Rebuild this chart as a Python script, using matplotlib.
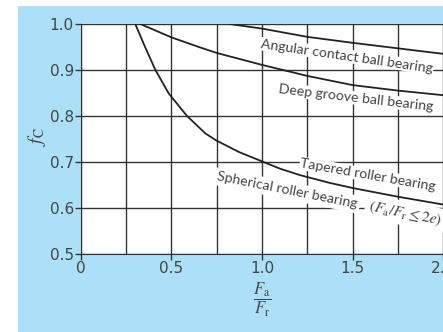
import matplotlib
matplotlib.use("Agg")
from matplotlib import pyplot as plt
from matplotlib.patches import Rectangle
from matplotlib.ticker import MultipleLocator

plt.rcParams['mathtext.fontset'] = 'stix'

# values (Fa/Fr vs fC)
roller_x = [0.301, 0.355, 0.412, 0.485, 0.586, 0.687, 0.75, 0.875, 1.0, 1.1, 1.21,
            1.375, 1.5, 1.75, 2.0, 2.25]
roller_y = [1.0, 0.950, 0.900, 0.849, 0.800, 0.762, 0.746, 0.721, 0.701, 0.685, 0.671,
            0.654, 0.643, 0.624, 0.607, 0.594]

deep_x = [0.329, 0.5, 0.651, 0.75, 1.0, 1.25, 1.5, 1.75, 2.0, 2.25]
deep_y = [1.0, 0.971, 0.950, 0.937, 0.911, 0.887, 0.867, 0.855, 0.845, 0.837]

angular_x = [0.82, 1.0, 1.25, 1.5, 1.75, 2.0, 2.25]
angular_y = [1.0, 0.990, 0.972, 0.959, 0.947, 0.935, 0.925]

x_ticks = [0, 0.5, 1.0, 1.5, 2.0]
x_ticklabels = ['0', '0.5', '1.0', '1.5', '2.0']
y_ticks = [0.5, 0.6, 0.7, 0.8, 0.9, 1.0]

bg = '#ace0f9'
txt = '#444444'

fig = plt.figure(figsize=(4.43, 3.32), dpi=100)
fig.patches.append(Rectangle((18/443, 0), 1, 326/332, transform=fig.transFigure,
                             facecolor=bg, edgecolor='none', zorder=-10))

ax = fig.add_axes([80.7/443, 78.3/332, 2.25*181.3/443, 229.7/332])
ax.set_facecolor('white')
ax.set_xlim(0, 2.25)
ax.set_ylim(0.5, 1.0)

ax.xaxis.set_minor_locator(MultipleLocator(0.25))
ax.set_xticks(x_ticks)
ax.set_xticklabels(x_ticklabels)
ax.set_yticks(y_ticks)
ax.set_yticklabels(['%.1f' % v for v in y_ticks])
ax.grid(True, which='both', color='#333333', lw=1.0)
ax.tick_params(which='minor', length=0)
ax.tick_params(which='major', length=4, width=1, color='#333333',
               labelsize=11, labelcolor=txt, pad=1)
ax.set_axisbelow(True)
for s in ax.spines.values():
    s.set_color('#333333')
ax.spines['top'].set_visible(False)
ax.spines['right'].set_visible(False)

for xs, ys in [(roller_x, roller_y), (deep_x, deep_y), (angular_x, angular_y)]:
    ax.plot(xs, ys, color='#222222', lw=1.3, zorder=3)

lbl = dict(fontfamily='Lato', fontsize=10.2, color=txt, ha='center', va='center',
           rotation_mode='anchor',
           bbox=dict(facecolor='white', edgecolor='none', pad=0.5), zorder=4)
fig.text(347/443, 1 - 56/332, 'Angular contact ball bearing', rotation=-8.2, **lbl)
fig.text(356/443, 1 - 98/332, 'Deep groove ball bearing', rotation=-6.6, **lbl)
fig.text(368/443, 1 - 175/332, 'Tapered roller bearing', rotation=-10, **lbl)
word_lbl = dict(lbl, bbox=dict(facecolor='white', edgecolor='none', pad=2.0))
fig.text(287/443, 1 - 190.5/332, 'Spherical roller bearing', rotation=-11.3, **word_lbl)
math_lbl = dict(lbl, fontsize=11.2,
                bbox=dict(facecolor='white', edgecolor='none', pad=2.5))
fig.text(405/443, 1 - 213.5/332, r'$(F_\mathrm{a}/F_\mathrm{r} \leq 2e)$',
         rotation=-11.3, **math_lbl)

fig.text(37/443, 1 - 137/332, r'$f_\mathrm{C}$', rotation=90, fontsize=14,
         color=txt, ha='center', va='center')
fig.text(262/443, 1 - 300/332, r'$\dfrac{F_\mathrm{a}}{F_\mathrm{r}}$',
         fontsize=12, color=txt, ha='center', va='center')

fig.savefig('out.png', dpi=100)
